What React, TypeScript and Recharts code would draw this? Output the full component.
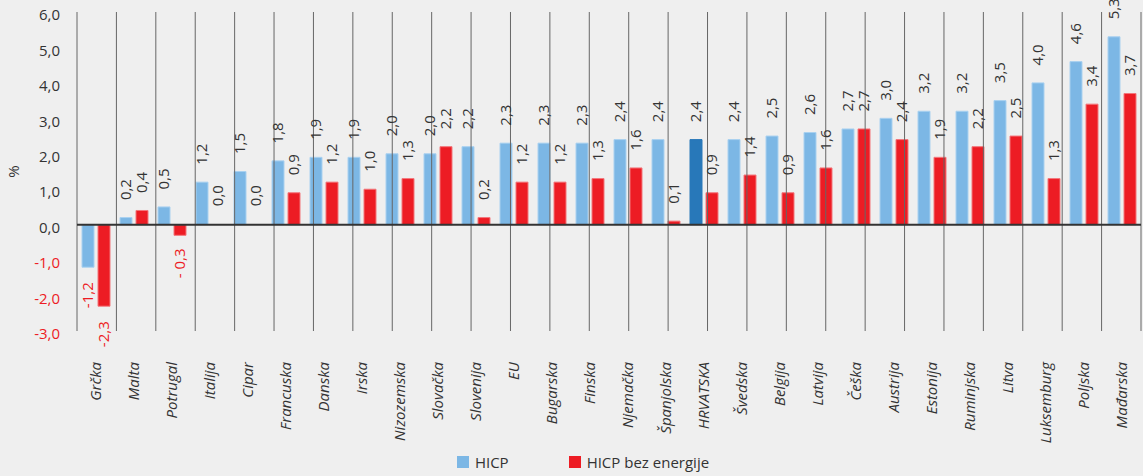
import { BarChart, Bar, XAxis, YAxis, Cell, LabelList, Legend, ReferenceLine } from "recharts";

const countries = [
  "Grčka", "Malta", "Potrugal", "Italija", "Cipar", "Francuska", "Danska", "Irska",
  "Nizozemska", "Slovačka", "Slovenija", "EU", "Bugarska", "Finska", "Njemačka",
  "Španjolska", "HRVATSKA", "Švedska", "Belgija", "Latvija", "Češka", "Austrija",
  "Estonija", "Ruminjska", "Litva", "Luksemburg", "Poljska", "Mađarska",
];
const hicp = [
  -1.2, 0.2, 0.5, 1.2, 1.5, 1.8, 1.9, 1.9, 2.0, 2.0, 2.2, 2.3, 2.3, 2.3, 2.4, 2.4,
  2.4, 2.4, 2.5, 2.6, 2.7, 3.0, 3.2, 3.2, 3.5, 4.0, 4.6, 5.3,
];
const hicpExEnergy = [
  -2.3, 0.4, -0.3, 0.0, 0.0, 0.9, 1.2, 1.0, 1.3, 2.2, 0.2, 1.2, 1.2, 1.3, 1.6, 0.1,
  0.9, 1.4, 0.9, 1.6, 2.7, 2.4, 1.9, 2.2, 2.5, 1.3, 3.4, 3.7,
];
const yTicks = [-3, -2, -1, 0, 1, 2, 3, 4, 5, 6];
const highlighted = "HRVATSKA";

const data = countries.map((name, i) => ({
  name,
  hicp: hicp[i],
  exEnergy: hicpExEnergy[i],
}));

const boundaries = Array.from({ length: countries.length + 1 }, (_, i) => i);

const FONT = "'Open Sans', sans-serif";
const TEXT = "#333333";
const RED = "#ed1c24";
const BLUE = "#7cb7e5";
const DARK_BLUE = "#2878b9";

// decimal comma, and the "- 0,x" spacing the source uses for small negatives
const fmt = (v: number) => {
  const s = v.toFixed(1).replace(".", ",");
  return v < 0 && v > -1 ? s.replace("-", "- ") : s;
};

const YTick = (props: any) => {
  const { x, y, payload } = props;
  return (
    <text
      x={x}
      y={y + 3}
      dy="0.35em"
      textAnchor="end"
      fontFamily={FONT}
      fontSize={15}
      fill={payload.value < 0 ? RED : TEXT}
    >
      {payload.value.toFixed(1).replace(".", ",")}
    </text>
  );
};

const XTick = (props: any) => {
  const { x, y, payload } = props;
  return (
    <text
      x={x}
      y={y}
      dy="0.35em"
      transform={`rotate(-90, ${x}, ${y})`}
      textAnchor="end"
      fontFamily={FONT}
      fontSize={15}
      fontStyle="italic"
      fill={TEXT}
    >
      {payload.value}
    </text>
  );
};

const ValueLabel = (props: any) => {
  const { x, y, width, height, value } = props;
  const top = Math.min(y, y + height);
  const bottom = Math.max(y, y + height);
  const cx = x + width / 2;
  const cy = value < 0 ? bottom + 28 : top - 28;
  return (
    <text
      x={cx}
      y={cy}
      dy="0.35em"
      transform={`rotate(-90, ${cx}, ${cy})`}
      textAnchor="middle"
      fontFamily={FONT}
      fontSize={15}
      fill={value < 0 ? RED : TEXT}
    >
      {fmt(value)}
    </text>
  );
};

const LegendContent = () => (
  <div
    style={{
      display: "flex",
      justifyContent: "center",
      paddingLeft: 25,
      fontFamily: FONT,
      fontSize: 15,
      color: TEXT,
      height: 20,
      alignItems: "center",
    }}
  >
    <span style={{ display: "inline-block", width: 12, height: 12, background: BLUE, marginRight: 6 }} />
    <span style={{ marginRight: 60 }}>HICP</span>
    <span style={{ display: "inline-block", width: 12, height: 12, background: RED, marginRight: 6 }} />
    <span>HICP bez energije</span>
  </div>
);

// zero values still need a (hidden) bar so their "0,0" label gets drawn
const zeroPoint = (v: any) => (v === 0 ? 1 : 0);

export default function App() {
  return (
    <div style={{ position: "absolute", left: 0, top: 0, width: 1143, height: 476, background: "#efefef" }}>
      <BarChart
        width={1143}
        height={476}
        data={data}
        margin={{ top: 12, right: 2, left: 0, bottom: 4 }}
        barSize={12}
        barGap={4}
      >
        <XAxis
          dataKey="name"
          interval={0}
          axisLine={false}
          tickLine={false}
          tickMargin={25}
          height={121}
          tick={<XTick />}
        />
        <XAxis xAxisId="grid" type="number" domain={[0, countries.length]} hide />
        <YAxis
          domain={[-3, 6]}
          ticks={yTicks}
          interval={0}
          width={77}
          axisLine={false}
          tickLine={false}
          tickMargin={11}
          tick={<YTick />}
          label={{
            content: (p: any) => {
              const vb = p.viewBox;
              const cx = vb.x + 14;
              const cy = vb.y + vb.height / 2;
              return (
                <text
                  x={cx}
                  y={cy}
                  dy="0.35em"
                  transform={`rotate(-90, ${cx}, ${cy})`}
                  textAnchor="middle"
                  fontFamily={FONT}
                  fontSize={15}
                  fill={TEXT}
                >
                  %
                </text>
              );
            },
          }}
        />
        {boundaries.map((b) => (
          <ReferenceLine key={b} xAxisId="grid" x={b} stroke="#666666" strokeWidth={1} />
        ))}
        <Legend verticalAlign="bottom" content={<LegendContent />} />
        <Bar
          dataKey="hicp"
          name="HICP"
          fill={BLUE}
          stroke="#a9d1f0"
          strokeWidth={1}
          minPointSize={zeroPoint}
          isAnimationActive={false}
        >
          {data.map((d) => (
            <Cell
              key={d.name}
              fill={d.name === highlighted ? DARK_BLUE : BLUE}
              stroke={d.name === highlighted ? DARK_BLUE : "#a9d1f0"}
            />
          ))}
          <LabelList dataKey="hicp" content={<ValueLabel />} />
        </Bar>
        <Bar
          dataKey="exEnergy"
          name="HICP bez energije"
          fill={RED}
          stroke="#f3767b"
          strokeWidth={1}
          minPointSize={zeroPoint}
          isAnimationActive={false}
        >
          {data.map((d) => (
            <Cell key={d.name} fill={d.exEnergy === 0 ? "none" : RED} stroke={d.exEnergy === 0 ? "none" : "#f3767b"} />
          ))}
          <LabelList dataKey="exEnergy" content={<ValueLabel />} />
        </Bar>
        <ReferenceLine y={0} stroke="#333333" strokeWidth={2} />
      </BarChart>
    </div>
  );
}
